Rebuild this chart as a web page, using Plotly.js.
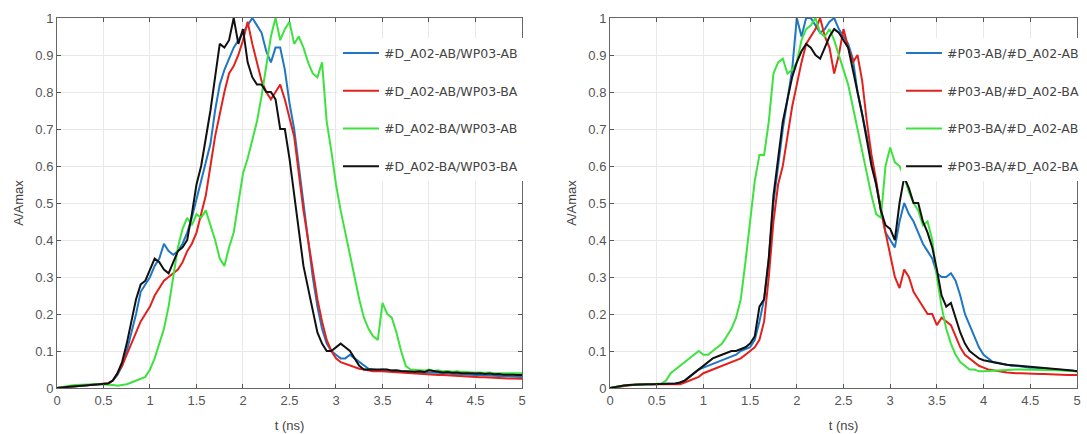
<!DOCTYPE html>
<html>
<head>
<meta charset="utf-8">
<script src="https://cdn.plot.ly/plotly-3.0.1.min.js"></script>
<style>
  html, body { margin: 0; padding: 0; background: #ffffff; }
  #chart { width: 1087px; height: 434px; }
</style>
</head>
<body>
<div id="chart"></div>
<script>
// ---- time axis (ns) ----
const t = [
  0.00,0.05,0.10,0.15,0.20,0.25,0.30,0.35,0.40,0.45,
  0.50,0.55,0.60,0.65,0.70,0.75,0.80,0.85,0.90,0.95,
  1.00,1.05,1.10,1.15,1.20,1.25,1.30,1.35,1.40,1.45,
  1.50,1.55,1.60,1.65,1.70,1.75,1.80,1.85,1.90,1.95,
  2.00,2.05,2.10,2.15,2.20,2.25,2.30,2.35,2.40,2.45,
  2.50,2.55,2.60,2.65,2.70,2.75,2.80,2.85,2.90,2.95,
  3.00,3.05,3.10,3.15,3.20,3.25,3.30,3.35,3.40,3.45,
  3.50,3.55,3.60,3.65,3.70,3.75,3.80,3.85,3.90,3.95,
  4.00,4.05,4.10,4.15,4.20,4.25,4.30,4.35,4.40,4.45,
  4.50,4.55,4.60,4.65,4.70,4.75,4.80,4.85,4.90,4.95,
  5.00
];

// ---- left panel series ----
const leftNames = ["#D_A02-AB/WP03-AB", "#D_A02-AB/WP03-BA", "#D_A02-BA/WP03-AB", "#D_A02-BA/WP03-BA"];
const leftBlue = [
  0.000,0.002,0.003,0.004,0.005,0.006,0.007,0.008,0.008,0.009,
  0.010,0.012,0.020,0.035,0.060,0.100,0.150,0.200,0.260,0.280,
  0.300,0.330,0.350,0.390,0.370,0.360,0.370,0.390,0.420,0.460,
  0.510,0.560,0.610,0.660,0.750,0.820,0.860,0.890,0.920,0.940,
  0.960,0.980,1.000,0.980,0.960,0.910,0.880,0.920,0.920,0.860,
  0.770,0.700,0.600,0.490,0.390,0.300,0.220,0.160,0.120,0.100,
  0.090,0.080,0.080,0.090,0.080,0.070,0.060,0.052,0.050,0.048,
  0.050,0.048,0.047,0.046,0.045,0.045,0.044,0.043,0.042,0.042,
  0.041,0.040,0.041,0.039,0.040,0.038,0.037,0.038,0.036,0.036,
  0.035,0.035,0.034,0.035,0.033,0.033,0.032,0.032,0.031,0.031,
  0.030
];
const leftRed = [
  0.000,0.001,0.002,0.004,0.005,0.006,0.006,0.007,0.008,0.009,
  0.010,0.013,0.020,0.040,0.060,0.090,0.120,0.150,0.180,0.200,
  0.220,0.250,0.270,0.290,0.300,0.310,0.320,0.340,0.370,0.390,
  0.420,0.470,0.520,0.600,0.680,0.740,0.800,0.850,0.870,0.900,
  0.940,0.990,0.930,0.880,0.830,0.800,0.780,0.800,0.820,0.780,
  0.730,0.680,0.580,0.480,0.400,0.320,0.240,0.180,0.130,0.100,
  0.080,0.070,0.065,0.060,0.055,0.052,0.050,0.048,0.045,0.046,
  0.045,0.044,0.044,0.043,0.042,0.041,0.040,0.040,0.039,0.038,
  0.037,0.036,0.035,0.035,0.034,0.033,0.032,0.032,0.031,0.030,
  0.030,0.029,0.029,0.028,0.028,0.027,0.027,0.026,0.026,0.025,
  0.025
];
const leftGreen = [
  0.000,0.003,0.005,0.007,0.008,0.009,0.009,0.010,0.010,0.010,
  0.010,0.010,0.008,0.006,0.008,0.010,0.015,0.020,0.025,0.030,
  0.050,0.080,0.120,0.160,0.220,0.300,0.380,0.430,0.460,0.440,
  0.470,0.460,0.480,0.440,0.400,0.350,0.330,0.380,0.420,0.500,
  0.580,0.620,0.670,0.720,0.790,0.870,0.950,1.000,0.940,0.970,
  0.990,0.930,0.950,0.920,0.880,0.850,0.840,0.880,0.720,0.640,
  0.550,0.480,0.420,0.360,0.300,0.240,0.190,0.160,0.140,0.130,
  0.230,0.200,0.190,0.150,0.100,0.060,0.050,0.050,0.048,0.047,
  0.050,0.046,0.048,0.045,0.046,0.044,0.045,0.043,0.044,0.042,
  0.043,0.042,0.041,0.042,0.040,0.041,0.040,0.040,0.039,0.040,
  0.040
];
const leftBlack = [
  0.000,0.002,0.003,0.004,0.005,0.006,0.006,0.007,0.008,0.008,
  0.010,0.012,0.020,0.040,0.070,0.120,0.180,0.240,0.280,0.290,
  0.320,0.350,0.340,0.320,0.310,0.340,0.370,0.380,0.400,0.470,
  0.550,0.600,0.670,0.750,0.840,0.930,0.920,0.940,1.000,0.930,
  0.970,0.880,0.840,0.820,0.820,0.800,0.800,0.780,0.700,0.700,
  0.620,0.520,0.420,0.330,0.270,0.210,0.150,0.120,0.100,0.100,
  0.110,0.120,0.110,0.100,0.080,0.060,0.050,0.050,0.048,0.050,
  0.048,0.050,0.047,0.048,0.046,0.045,0.046,0.044,0.045,0.043,
  0.048,0.045,0.044,0.042,0.043,0.041,0.042,0.040,0.041,0.040,
  0.039,0.040,0.038,0.039,0.037,0.038,0.036,0.037,0.036,0.035,
  0.035
];

// ---- right panel series ----
const rightNames = ["#P03-AB/#D_A02-AB", "#P03-AB/#D_A02-BA", "#P03-BA/#D_A02-AB", "#P03-BA/#D_A02-BA"];
const rightBlue = [
  0.000,0.003,0.005,0.007,0.008,0.009,0.010,0.010,0.010,0.010,
  0.010,0.010,0.010,0.010,0.012,0.015,0.020,0.030,0.040,0.050,
  0.055,0.060,0.065,0.070,0.075,0.080,0.085,0.090,0.100,0.105,
  0.110,0.130,0.180,0.240,0.350,0.500,0.600,0.700,0.780,0.860,
  1.000,0.950,1.000,1.000,0.980,0.960,0.970,0.990,1.000,0.970,
  0.950,0.930,0.890,0.800,0.740,0.680,0.620,0.550,0.480,0.420,
  0.400,0.380,0.450,0.500,0.470,0.450,0.420,0.390,0.370,0.350,
  0.310,0.300,0.300,0.310,0.290,0.250,0.200,0.170,0.140,0.110,
  0.090,0.080,0.070,0.068,0.065,0.063,0.060,0.060,0.058,0.057,
  0.055,0.055,0.054,0.053,0.052,0.051,0.050,0.049,0.048,0.047,
  0.045
];
const rightRed = [
  0.000,0.002,0.004,0.006,0.008,0.009,0.010,0.010,0.010,0.010,
  0.010,0.010,0.008,0.008,0.008,0.010,0.015,0.020,0.025,0.030,
  0.040,0.045,0.050,0.055,0.060,0.065,0.070,0.075,0.080,0.090,
  0.100,0.110,0.130,0.180,0.300,0.450,0.550,0.600,0.680,0.760,
  0.820,0.880,0.930,0.950,0.970,1.000,0.950,0.920,0.850,0.900,
  0.970,0.920,0.880,0.900,0.830,0.720,0.630,0.560,0.480,0.420,
  0.360,0.300,0.270,0.320,0.300,0.260,0.240,0.220,0.200,0.200,
  0.170,0.190,0.180,0.170,0.140,0.110,0.090,0.080,0.070,0.060,
  0.055,0.050,0.048,0.045,0.044,0.042,0.040,0.040,0.040,0.039,
  0.040,0.039,0.038,0.038,0.037,0.037,0.036,0.036,0.035,0.035,
  0.035
];
const rightGreen = [
  0.000,0.003,0.005,0.007,0.008,0.009,0.010,0.010,0.010,0.010,
  0.010,0.012,0.020,0.040,0.050,0.060,0.070,0.080,0.090,0.100,
  0.090,0.090,0.100,0.110,0.120,0.140,0.160,0.190,0.240,0.340,
  0.450,0.560,0.630,0.630,0.720,0.850,0.880,0.890,0.850,0.860,
  0.880,0.940,0.970,0.980,1.000,0.960,0.950,0.970,0.940,0.900,
  0.860,0.820,0.760,0.700,0.640,0.580,0.520,0.470,0.460,0.600,
  0.650,0.610,0.600,0.570,0.530,0.500,0.480,0.440,0.450,0.400,
  0.300,0.220,0.160,0.120,0.090,0.070,0.060,0.050,0.050,0.045,
  0.045,0.046,0.047,0.048,0.048,0.049,0.050,0.050,0.050,0.050,
  0.050,0.050,0.050,0.049,0.049,0.048,0.048,0.047,0.047,0.046,
  0.045
];
const rightBlack = [
  0.000,0.003,0.005,0.007,0.008,0.009,0.010,0.010,0.010,0.010,
  0.010,0.010,0.010,0.010,0.012,0.015,0.020,0.030,0.040,0.050,
  0.060,0.070,0.080,0.085,0.090,0.095,0.100,0.100,0.105,0.110,
  0.120,0.140,0.220,0.240,0.350,0.520,0.620,0.720,0.780,0.840,
  0.880,0.910,0.930,0.920,0.900,0.890,0.920,0.950,0.970,0.960,
  0.940,0.920,0.860,0.800,0.740,0.670,0.600,0.550,0.480,0.440,
  0.430,0.400,0.500,0.570,0.540,0.500,0.500,0.450,0.420,0.380,
  0.320,0.250,0.220,0.230,0.190,0.150,0.120,0.100,0.090,0.080,
  0.075,0.072,0.070,0.068,0.065,0.063,0.062,0.060,0.060,0.058,
  0.057,0.056,0.055,0.054,0.053,0.052,0.051,0.050,0.048,0.047,
  0.045
];

// ---- ticks & labels ----
const xTickVals = [0, 0.5, 1, 1.5, 2, 2.5, 3, 3.5, 4, 4.5, 5];
const xTickText = ["0", "0.5", "1", "1.5", "2", "2.5", "3", "3.5", "4", "4.5", "5"];
const yTickVals = [0, 0.1, 0.2, 0.3, 0.4, 0.5, 0.6, 0.7, 0.8, 0.9, 1];
const yTickText = ["0", "0.1", "0.2", "0.3", "0.4", "0.5", "0.6", "0.7", "0.8", "0.9", "1"];
const xTitle = "t (ns)";
const yTitle = "A/Amax";

const colors = ["#1f77c4", "#e3211c", "#3ee23e", "#111111"];
const FONT = "Liberation Sans, Arial, sans-serif";
const LEGFONT = "DejaVu Sans, Liberation Sans, sans-serif";

const leftSeries = [leftBlue, leftRed, leftGreen, leftBlack];
const rightSeries = [rightBlue, rightRed, rightGreen, rightBlack];

const traces = [];
leftSeries.forEach((y, i) => {
  traces.push({
    x: t, y: y, type: "scatter", mode: "lines", name: leftNames[i],
    xaxis: "x", yaxis: "y", legend: "legend", legendgroup: "L" + i,
    line: { color: colors[i], width: 2 }
  });
});
rightSeries.forEach((y, i) => {
  traces.push({
    x: t, y: y, type: "scatter", mode: "lines", name: rightNames[i],
    xaxis: "x2", yaxis: "y2", legend: "legend2", legendgroup: "R" + i,
    line: { color: colors[i], width: 2 }
  });
});

function xAxis(domain, anchor) {
  return {
    domain: domain, anchor: anchor, range: [0, 5],
    tickmode: "array", tickvals: xTickVals, ticktext: xTickText,
    ticks: "inside", ticklen: 4, tickcolor: "#555",
    showline: true, linecolor: "#666", linewidth: 1, mirror: "allticks",
    showgrid: true, gridcolor: "#e8e8e8", gridwidth: 1, zeroline: false,
    tickfont: { family: FONT, size: 13, color: "#555" },
    title: { text: xTitle, font: { family: FONT, size: 13, color: "#444" }, standoff: 14 },
    automargin: false
  };
}
function yAxis(anchor) {
  return {
    domain: [0, 1], anchor: anchor, range: [0, 1],
    tickmode: "array", tickvals: yTickVals, ticktext: yTickText,
    ticks: "inside", ticklen: 4, tickcolor: "#555",
    showline: true, linecolor: "#666", linewidth: 1, mirror: "allticks",
    showgrid: true, gridcolor: "#e8e8e8", gridwidth: 1, zeroline: false,
    tickfont: { family: FONT, size: 13, color: "#555" },
    title: { text: yTitle, font: { family: FONT, size: 13, color: "#444" }, standoff: 8 },
    automargin: false
  };
}

function legendCfg(x, y) {
  return {
    x: x, y: y, xanchor: "left", yanchor: "top", xref: "paper", yref: "paper",
    bgcolor: "#ffffff", borderwidth: 0, tracegroupgap: 18.5, itemwidth: 36,
    font: { family: LEGFONT, size: 12.5, color: "#444" }
  };
}

const layout = {
  width: 1087, height: 434,
  margin: { l: 50, r: 0, t: 18, b: 46 },
  paper_bgcolor: "#ffffff", plot_bgcolor: "#ffffff",
  showlegend: true,
  xaxis: xAxis([0.00675, 0.45516], "y"),
  yaxis: yAxis("x"),
  xaxis2: xAxis([0.54002, 0.99036], "y2"),
  yaxis2: yAxis("x2"),
  legend: legendCfg(0.2777, 0.945),
  legend2: legendCfg(0.8206, 0.945)
};

Plotly.newPlot("chart", traces, layout, { displayModeBar: false, staticPlot: true });
</script>
</body>
</html>
